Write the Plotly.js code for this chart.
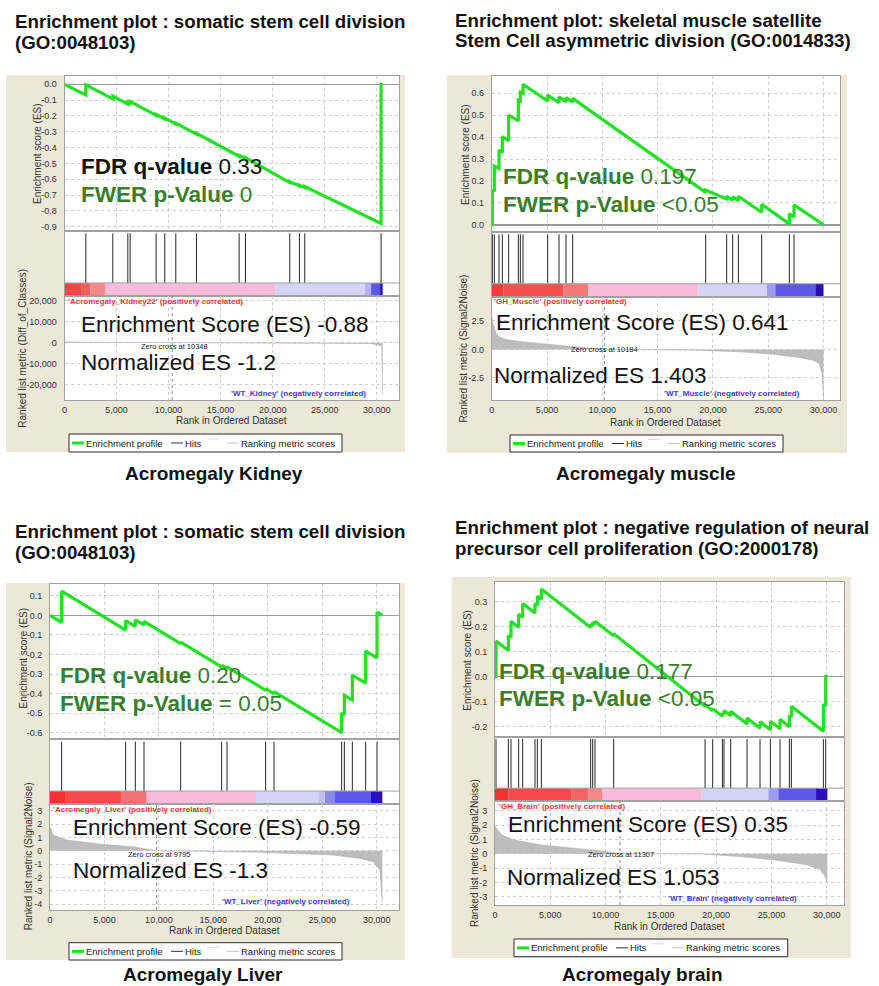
<!DOCTYPE html>
<html>
<head>
<meta charset="utf-8">
<script src="https://cdn.plot.ly/plotly-3.0.1.min.js"></script>
<style>
html,body{margin:0;padding:0;background:#fff;}
#chart{width:879px;height:986px;}
</style>
</head>
<body>
<div id="chart"></div>
<script>
// ---------------- shared tick labels ----------------
const xTickVals = [0, 5000, 10000, 15000, 20000, 25000, 30000];
const xTickText = ["0", "5,000", "10,000", "15,000", "20,000", "25,000", "30,000"];
const legendLabels = ["Enrichment profile", "Hits", "Ranking metric scores"];
const xAxisTitle = "Rank in Ordered Dataset";
const esAxisTitle = "Enrichment score (ES)";

// ---------------- Panel 1: Kidney ----------------
const kidneyTitle = ["Enrichment plot : somatic stem cell division", "(GO:0048103)"];
const kidneyCaption = "Acromegaly Kidney";
const kidneyStats = ["0.33", "0", "-0.88", "-1.2"];
const kidneyClassLabels = ["'Acromegaly_Kidney22' (positively correlated)", "'WT_Kidney' (negatively correlated)"];
const kidneyMetricName = "Ranked list metric (Diff_of_Classes)";
const kidneyZeroCross = 10348;
const kidneyHits = [2049, 4643, 6084, 6308, 8805, 9638, 10694, 12679, 16779, 17387, 21646, 22573, 23085, 30418];
const kidneyEsRank = [0, 2049, 2049, 4643, 4643, 6084, 6084, 6308, 6308, 8805, 8805, 9638, 9638, 10694, 10694, 12679, 12679, 16779, 16779, 17387, 17387, 21646, 21646, 22573, 22573, 23085, 23085, 30418, 30418, 30570];
const kidneyEsScore = [0, -0.067, -0.003, -0.092, -0.074, -0.125, -0.112, -0.119, -0.108, -0.196, -0.19, -0.219, -0.213, -0.251, -0.245, -0.315, -0.309, -0.455, -0.449, -0.47, -0.464, -0.621, -0.615, -0.643, -0.637, -0.652, -0.646, -0.88, 0, 0];
const kidneyMetricRank = [0, 2000, 10348, 29500, 30480, 30500, 30570];
const kidneyMetricValue = [400, 200, 0, -400, -1500, -25000, -25000];
const kidneyBarEdges = [0, 1665, 2466, 3906, 20237, 28882, 29458, 30323, 30570];
const kidneyBarColors = ["#f24646", "#f45e5e", "#f58a8a", "#f8bcda", "#d4d4f6", "#b4b4f0", "#5a5ae6", "#2a10b8"];
const kidneyEsTicks = [0, -0.1, -0.2, -0.3, -0.4, -0.5, -0.6, -0.7, -0.8, -0.9];
const kidneyEsTickText = ["0.0", "-0.1", "-0.2", "-0.3", "-0.4", "-0.5", "-0.6", "-0.7", "-0.8", "-0.9"];
const kidneyMetricTicks = [20000, 10000, 0, -10000, -20000];
const kidneyMetricTickText = ["20,000", "10,000", "0", "-10,000", "-20,000"];

// ---------------- Panel 2: Muscle ----------------
const muscleTitle = ["Enrichment plot: skeletal muscle satellite", "Stem Cell asymmetric division (GO:0014833)"];
const muscleCaption = "Acromegaly muscle";
const muscleStats = ["0.197", "<0.05", "0.641", "1.403"];
const muscleClassLabels = ["'GH_Muscle' (positively correlated)", "'WT_Muscle' (negatively correlated)"];
const muscleMetricName = "Ranked list metric (Signal2Noise)";
const muscleZeroCross = 10184;
const muscleHits = [57, 238, 660, 961, 1534, 2408, 2589, 2830, 5060, 6085, 6718, 7321, 19346, 21245, 21787, 22300, 24410, 26911, 27333];
const muscleEsRank = [0, 57, 57, 238, 238, 660, 660, 961, 961, 1534, 1534, 2408, 2408, 2589, 2589, 2830, 2830, 5060, 5060, 6085, 6085, 6718, 6718, 7321, 7321, 19346, 19346, 21245, 21245, 21787, 21787, 22300, 22300, 24410, 24410, 26911, 26911, 27333, 27333, 30000];
const muscleEsScore = [0, 0, 0.158, 0.152, 0.268, 0.257, 0.341, 0.33, 0.402, 0.384, 0.501, 0.474, 0.569, 0.565, 0.605, 0.6, 0.641, 0.565, 0.592, 0.557, 0.584, 0.562, 0.58, 0.56, 0.577, 0.148, 0.158, 0.118, 0.13, 0.112, 0.128, 0.11, 0.13, 0.057, 0.093, 0.004, 0.05, 0.036, 0.091, 0];
const muscleMetricRank = [0, 57, 400, 700, 1330, 2830, 4340, 7350, 9760, 10184, 18500, 22400, 25420, 27830, 29030, 29630, 29870, 29930, 30000];
const muscleMetricValue = [2.9, 2.5, 1.4, 1.1, 0.88, 0.67, 0.53, 0.29, 0.06, 0, -0.06, -0.2, -0.41, -0.7, -0.94, -1.23, -2.1, -4.15, -4.4];
const muscleBarEdges = [0, 1050, 6480, 8740, 18700, 24880, 25640, 29260, 30000];
const muscleBarColors = ["#f43a3a", "#f55050", "#f47a7a", "#f8bcda", "#d4d4f6", "#9c9cf0", "#5a5ae6", "#2a10b8"];
const muscleEsTicks = [0, 0.1, 0.2, 0.3, 0.4, 0.5, 0.6];
const muscleEsTickText = ["0.0", "0.1", "0.2", "0.3", "0.4", "0.5", "0.6"];
const muscleMetricTicks = [2.5, 0, -2.5];
const muscleMetricTickText = ["2.5", "0.0", "-2.5"];

// ---------------- Panel 3: Liver ----------------
const liverTitle = ["Enrichment plot : somatic stem cell division", "(GO:0048103)"];
const liverCaption = "Acromegaly Liver";
const liverStats = ["0.20", "= 0.05", "-0.59", "-1.3"];
const liverClassLabels = ["'Acromegaly_Liver' (positively correlated)", "'WT_Liver' (negatively correlated)"];
const liverMetricName = "Ranked list metric (Signal2Noise)";
const liverZeroCross = 9795;
const liverHits = [1071, 6949, 7837, 8633, 12000, 15765, 16255, 19806, 20571, 26786, 27031, 27765, 28990, 30031];
const liverEsRank = [0, 1071, 1071, 6949, 6949, 7837, 7837, 8633, 8633, 12000, 12000, 15765, 15765, 16255, 16255, 19806, 19806, 20571, 20571, 26786, 26786, 27031, 27031, 27765, 27765, 28990, 28990, 30031, 30031, 30520];
const liverEsScore = [0, -0.036, 0.124, -0.075, -0.026, -0.056, -0.022, -0.049, -0.03, -0.144, -0.136, -0.263, -0.255, -0.271, -0.263, -0.383, -0.375, -0.401, -0.39, -0.6, -0.5, -0.508, -0.41, -0.433, -0.305, -0.346, -0.182, -0.217, 0.017, 0];
const liverMetricRank = [0, 300, 1530, 4590, 7650, 9795, 18800, 22960, 26000, 28470, 29700, 30300, 30520];
const liverMetricValue = [1.8, 1.17, 0.8, 0.5, 0.3, 0, -0.1, -0.2, -0.32, -0.57, -0.82, -1.44, -3.9];
const liverBarEdges = [0, 1377, 6581, 8877, 18918, 24643, 25255, 26112, 29479, 30520];
const liverBarColors = ["#f43030", "#f44a4a", "#f57272", "#f8bcda", "#d4d4f6", "#c0c0f2", "#8a8aee", "#5a5ae6", "#2a10c0"];
const liverEsTicks = [0.1, 0, -0.1, -0.2, -0.3, -0.4, -0.5, -0.6];
const liverEsTickText = ["0.1", "0.0", "-0.1", "-0.2", "-0.3", "-0.4", "-0.5", "-0.6"];
const liverMetricTicks = [3, 2, 1, 0, -1, -2, -3, -4];
const liverMetricTickText = ["3", "2", "1", "0", "-1", "-2", "-3", "-4"];

// ---------------- Panel 4: Brain ----------------
const brainTitle = ["Enrichment plot : negative regulation of neural", "precursor cell proliferation (GO:2000178)"];
const brainCaption = "Acromegaly brain";
const brainStats = ["0.177", "<0.05", "0.35", "1.053"];
const brainClassLabels = ["'GH_Brain' (positively correlated)", "'WT_Brain' (negatively correlated)"];
const brainMetricName = "Ranked list metric (Signal2Noise)";
const brainZeroCross = 11307;
const brainHits = [90, 1206, 1447, 2141, 2503, 3618, 3829, 4191, 8653, 8834, 9045, 10734, 18995, 19688, 20563, 20714, 21317, 22794, 23970, 24905, 25779, 26623, 26804, 29698, 29910];
const brainEsRank = [0, 90, 90, 1206, 1206, 1447, 1447, 2141, 2141, 2503, 2503, 3618, 3618, 3829, 3829, 4191, 4191, 8653, 8653, 8834, 8834, 9045, 9045, 10734, 10734, 18995, 18995, 19688, 19688, 20563, 20563, 20714, 20714, 21317, 21317, 22794, 22794, 23970, 23970, 24905, 24905, 25779, 25779, 26623, 26623, 26804, 26804, 29698, 29698, 29910, 29910, 30060];
const brainEsScore = [0, -0.003, 0.143, 0.105, 0.165, 0.157, 0.222, 0.198, 0.25, 0.238, 0.293, 0.255, 0.293, 0.286, 0.322, 0.31, 0.351, 0.197, 0.21, 0.204, 0.218, 0.211, 0.222, 0.164, 0.172, -0.118, -0.112, -0.136, -0.128, -0.158, -0.145, -0.15, -0.135, -0.156, -0.138, -0.189, -0.165, -0.206, -0.18, -0.212, -0.178, -0.208, -0.17, -0.2, -0.155, -0.161, -0.118, -0.218, -0.11, -0.117, 0.005, 0];
const brainMetricRank = [0, 600, 1660, 4070, 7085, 10100, 11307, 18690, 22160, 25175, 28190, 29400, 29850, 30060];
const brainMetricValue = [1.9, 1.32, 0.97, 0.63, 0.39, 0.16, 0, -0.02, -0.19, -0.42, -0.76, -1.1, -1.58, -2.0];
const brainBarEdges = [0, 1206, 6935, 8442, 9738, 18693, 24723, 25628, 29035, 30060];
const brainBarColors = ["#f43030", "#f44a4a", "#f46464", "#f58888", "#f8bcda", "#d4d4f6", "#9c9cf0", "#5a5ae6", "#2a10c0"];
const brainEsTicks = [0.3, 0.2, 0.1, 0, -0.1, -0.2];
const brainEsTickText = ["0.3", "0.2", "0.1", "0.0", "-0.1", "-0.2"];
const brainMetricTicks = [3, 2, 1, 0, -1, -2, -3];
const brainMetricTickText = ["3", "2", "1", "0", "-1", "-2", "-3"];

// ---------------- drawing ----------------
const W = 879, H = 986;
const FONT = "Liberation Sans, Arial, Helvetica, sans-serif";
const GREEN_TEXT = "#3b7d2e";
const ES_GREEN = "#22e022";
const BEIGE = "#ebe8d8";
const traces = [], shapes = [], annotations = [];
const layout = {
  width: W, height: H,
  margin: {l: 0, r: 0, t: 0, b: 0},
  paper_bgcolor: "#ffffff",
  plot_bgcolor: "rgba(0,0,0,0)",
  showlegend: false,
  font: {family: FONT, color: "#333"}
};
const X = v => v / W;
const Y = v => 1 - v / H;
const id = n => (n === 1 ? "" : String(n));
const esc = s => s.replace(/</g, "&lt;").replace(/>/g, "&gt;");

function ann(x, y, text, o) {
  annotations.push(Object.assign({
    xref: "paper", yref: "paper", x: X(x), y: Y(y), text: text,
    showarrow: false, xanchor: "left", yanchor: "middle", borderpad: 0,
    font: {family: FONT, size: 10, color: "#333"}
  }, o || {}));
}
function pline(x0, y0, x1, y1, color, width, dash) {
  shapes.push({type: "line", xref: "paper", yref: "paper", x0: X(x0), y0: Y(y0), x1: X(x1), y1: Y(y1),
    line: {color: color, width: width, dash: dash || "solid"}, layer: "above"});
}

function addPanel(k, d, g) {
  const a = 3 * k + 1, b = 3 * k + 2, c = 3 * k + 3;
  const xd = [X(g.left), X(g.right)];
  const yd = (top, bot) => [Y(bot), Y(top)];
  const tfont = {family: FONT, size: 9, color: "#333"};
  const grid = {showgrid: true, gridcolor: "#cdcdcd", griddash: "dot", gridwidth: 1};
  const box = {showline: true, mirror: true, linecolor: "#a0a0a0", linewidth: 1, fixedrange: true};

  // beige frame + white plot areas
  shapes.push({type: "rect", xref: "paper", yref: "paper", x0: X(g.bg[0]), y0: Y(g.bg[3]), x1: X(g.bg[2]), y1: Y(g.bg[1]),
    fillcolor: BEIGE, line: {width: 0}, layer: "below"});
  [a, b, c].forEach(n => shapes.push({type: "rect", xref: "x" + id(n) + " domain", yref: "y" + id(n) + " domain",
    x0: 0, x1: 1, y0: 0, y1: 1, fillcolor: "#ffffff", line: {width: 0}, layer: "below"}));

  // axes: enrichment score
  layout["xaxis" + id(a)] = Object.assign({domain: xd, range: [0, g.xmax], anchor: "y" + id(a), tickmode: "array",
    tickvals: xTickVals, showticklabels: false, ticks: "", zeroline: false}, grid, box);
  layout["yaxis" + id(a)] = Object.assign({domain: yd(g.esTop, g.esBot), range: g.esRange, anchor: "x" + id(a),
    tickmode: "array", tickvals: d.esTicks, ticktext: d.esTickText, tickfont: tfont, ticks: "outside", ticklen: 5,
    tickcolor: "rgba(0,0,0,0)", zeroline: true, zerolinecolor: "#9a9a9a", zerolinewidth: 1.5}, grid, box);
  // axes: hits + colour bar
  layout["xaxis" + id(b)] = Object.assign({domain: xd, range: [0, g.xmax], anchor: "y" + id(b), showgrid: false,
    showticklabels: false, ticks: "", zeroline: false}, box);
  layout["yaxis" + id(b)] = Object.assign({domain: yd(g.esBot, g.metTop), range: [0, 1], anchor: "x" + id(b),
    showgrid: false, showticklabels: false, ticks: "", zeroline: false}, box);
  // axes: ranked metric
  layout["xaxis" + id(c)] = Object.assign({domain: xd, range: [0, g.xmax], anchor: "y" + id(c), tickmode: "array",
    tickvals: xTickVals, ticktext: xTickText, tickfont: tfont, ticks: "outside", ticklen: 1,
    tickcolor: "rgba(0,0,0,0)", zeroline: false}, grid, box);
  layout["yaxis" + id(c)] = Object.assign({domain: yd(g.metTop, g.metBot), range: g.metRange, anchor: "x" + id(c),
    tickmode: "array", tickvals: d.metTicks, ticktext: d.metTickText, tickfont: tfont, ticks: "outside", ticklen: 5,
    tickcolor: "rgba(0,0,0,0)", zeroline: false}, grid, box);

  // colour bar of the ranked list
  for (let i = 0; i < d.barColors.length; i++) {
    shapes.push({type: "rect", xref: "x" + id(b), yref: "y" + id(b), x0: d.barEdges[i], x1: d.barEdges[i + 1],
      y0: 0, y1: 0.2, fillcolor: d.barColors[i], line: {width: 0}, layer: "below"});
  }
  shapes.push({type: "line", xref: "x" + id(b) + " domain", yref: "y" + id(b), x0: 0, x1: 1, y0: 0.2, y1: 0.2,
    line: {color: "#a0a0a0", width: 1}, layer: "above"});
  // zero cross
  shapes.push({type: "line", xref: "x" + id(c), yref: "y" + id(c) + " domain", x0: d.zeroCross, x1: d.zeroCross,
    y0: 0, y1: 1, line: {color: "#8a8a8a", width: 1, dash: "3px,3px"}, layer: "above"});

  // traces
  traces.push({type: "scatter", mode: "lines", x: d.metRank, y: d.metValue, xaxis: "x" + id(c), yaxis: "y" + id(c),
    fill: "tozeroy", fillcolor: "#bdbdbd", line: {color: "#b0b0b0", width: 0.6}, hoverinfo: "skip"});
  traces.push({type: "scatter", mode: "lines", x: d.hits.flatMap(h => [h, h, null]),
    y: d.hits.flatMap(() => [0.2, 0.965, null]), xaxis: "x" + id(b), yaxis: "y" + id(b),
    line: {color: "#262626", width: 1}, hoverinfo: "skip"});
  traces.push({type: "scatter", mode: "lines", x: d.esRank, y: d.esScore, xaxis: "x" + id(a), yaxis: "y" + id(a),
    line: {color: ES_GREEN, width: 3.2}, hoverinfo: "skip"});

  // texts
  const big = 22.5;
  ann(g.title[0], g.title[1], "<b>" + d.title[0] + "</b>", {font: {family: FONT, size: 18.7, color: "#111"}});
  ann(g.title[0], g.title[2], "<b>" + d.title[1] + "</b>", {font: {family: FONT, size: 18.7, color: "#111"}});
  ann(g.caption[0], g.caption[1], "<b>" + d.caption + "</b>", {xanchor: "center", font: {family: FONT, size: 19, color: "#111"}});
  ann(g.fdr[0], g.fdr[1], "<b>FDR q-value</b> " + esc(d.stats[0]), {font: {family: FONT, size: big, color: d.fdrColor}});
  ann(g.fwer[0], g.fwer[1], "<b>FWER p-Value</b> " + esc(d.stats[1]), {font: {family: FONT, size: big, color: GREEN_TEXT}});
  ann(g.es[0], g.es[1], "Enrichment Score (ES) " + esc(d.stats[2]), {font: {family: FONT, size: big, color: "#111"}});
  ann(g.nes[0], g.nes[1], "Normalized ES " + esc(d.stats[3]), {font: {family: FONT, size: big, color: "#111"}});
  ann(g.zc[0], g.zc[1], "Zero cross at " + d.zeroCross, {font: {family: FONT, size: 7.5, color: "#222"}});
  ann(g.pos[0], g.pos[1], "<b>" + d.classLabels[0] + "</b>", {font: {family: FONT, size: 8, color: "#e03a3a"}});
  ann(g.neg[0], g.neg[1], "<b>" + d.classLabels[1] + "</b>", {xanchor: "right", font: {family: FONT, size: 8, color: "#3a3ad0"}});
  ann(g.esTitle[0], g.esTitle[1], esAxisTitle, {xanchor: "center", textangle: -90, font: {family: FONT, size: 10, color: "#333"}});
  ann(g.metTitle[0], g.metTitle[1], d.metricName, {xanchor: "center", textangle: -90, font: {family: FONT, size: 10, color: "#333"}});
  ann((g.left + g.right) / 2, g.xTitleY, xAxisTitle, {xanchor: "center", font: {family: FONT, size: 10, color: "#333"}});

  // legend
  const L = g.legend[0], T = g.legend[1], R = g.legend[2], B = g.legend[3], cy = (T + B) / 2;
  shapes.push({type: "rect", xref: "paper", yref: "paper", x0: X(L), x1: X(R), y0: Y(B), y1: Y(T),
    fillcolor: "#ffffff", line: {color: "#2a2a2a", width: 1}, layer: "below"});
  pline(L + 3, cy, L + 15, cy, ES_GREEN, 3);
  ann(L + 16, cy, legendLabels[0], {font: {family: FONT, size: 9.5, color: "#222"}});
  pline(L + 102, cy, L + 114, cy, "#333", 1);
  ann(L + 115, cy, legendLabels[1], {font: {family: FONT, size: 9.5, color: "#222"}});
  pline(L + 138, cy - 4, L + 150, cy - 4, "#dddddd", 1);
  pline(L + 158, cy, L + 170, cy, "#c4c4c4", 1);
  ann(L + 171, cy, legendLabels[2], {font: {family: FONT, size: 9.5, color: "#222"}});
}

addPanel(0, {
  title: kidneyTitle, caption: kidneyCaption, stats: kidneyStats, classLabels: kidneyClassLabels,
  metricName: kidneyMetricName, zeroCross: kidneyZeroCross, hits: kidneyHits, esRank: kidneyEsRank, esScore: kidneyEsScore,
  metRank: kidneyMetricRank, metValue: kidneyMetricValue, barEdges: kidneyBarEdges, barColors: kidneyBarColors,
  esTicks: kidneyEsTicks, esTickText: kidneyEsTickText, metTicks: kidneyMetricTicks, metTickText: kidneyMetricTickText,
  fdrColor: "#111"
}, {
  left: 64.5, right: 399, xmax: 32140, esTop: 76, esBot: 231, metTop: 296, metBot: 400,
  esRange: [-0.927, 0.0527], metRange: [-27290, 22240], bg: [6, 75, 405, 452],
  fdr: [80, 166.7], fwer: [80, 194], es: [80, 325], nes: [80, 362.5], zc: [140, 346],
  pos: [67, 301], neg: [367, 393], esTitle: [37, 154], metTitle: [21.7, 348], xTitleY: 421,
  legend: [69, 434, 342, 452], caption: [214, 473], title: [14, 22, 42]
});

addPanel(1, {
  title: muscleTitle, caption: muscleCaption, stats: muscleStats, classLabels: muscleClassLabels,
  metricName: muscleMetricName, zeroCross: muscleZeroCross, hits: muscleHits, esRank: muscleEsRank, esScore: muscleEsScore,
  metRank: muscleMetricRank, metValue: muscleMetricValue, barEdges: muscleBarEdges, barColors: muscleBarColors,
  esTicks: muscleEsTicks, esTickText: muscleEsTickText, metTicks: muscleMetricTicks, metTickText: muscleMetricTickText,
  fdrColor: GREEN_TEXT
}, {
  left: 491.7, right: 840, xmax: 31490, esTop: 76, esBot: 232, metTop: 296.7, metBot: 400,
  esRange: [-0.033, 0.679], metRange: [-4.43, 4.63], bg: [447, 75, 847, 453],
  fdr: [501.7, 176.7], fwer: [501.7, 204.2], es: [495, 322], nes: [493.3, 375], zc: [570, 349.3],
  pos: [493.3, 301.7], neg: [801, 393.7], esTitle: [465, 155], metTitle: [463, 348.5], xTitleY: 422,
  legend: [510, 435, 783, 452], caption: [646, 473], title: [454, 21, 41]
});

addPanel(2, {
  title: liverTitle, caption: liverCaption, stats: liverStats, classLabels: liverClassLabels,
  metricName: liverMetricName, zeroCross: liverZeroCross, hits: liverHits, esRank: liverEsRank, esScore: liverEsScore,
  metRank: liverMetricRank, metValue: liverMetricValue, barEdges: liverBarEdges, barColors: liverBarColors,
  esTicks: liverEsTicks, esTickText: liverEsTickText, metTicks: liverMetricTicks, metTickText: liverMetricTickText,
  fdrColor: GREEN_TEXT
}, {
  left: 50, right: 399, xmax: 32050, esTop: 584, esBot: 739.3, metTop: 804, metBot: 910,
  esRange: [-0.634, 0.161], metRange: [-4.43, 3.5], bg: [6, 583, 405, 960],
  fdr: [59.3, 675.8], fwer: [59.3, 703.3], es: [71.7, 827.2], nes: [71.7, 870.5], zc: [126.7, 854],
  pos: [51.7, 809.3], neg: [351, 901], esTitle: [22.5, 658], metTitle: [28.3, 856], xTitleY: 930,
  legend: [69, 942.7, 342, 960], caption: [203, 974], title: [14, 531, 552]
});

addPanel(3, {
  title: brainTitle, caption: brainCaption, stats: brainStats, classLabels: brainClassLabels,
  metricName: brainMetricName, zeroCross: brainZeroCross, hits: brainHits, esRank: brainEsRank, esScore: brainEsScore,
  metRank: brainMetricRank, metValue: brainMetricValue, barEdges: brainBarEdges, barColors: brainBarColors,
  esTicks: brainEsTicks, esTickText: brainEsTickText, metTicks: brainMetricTicks, metTickText: brainMetricTickText,
  fdrColor: GREEN_TEXT
}, {
  left: 495, right: 844.3, xmax: 31592, esTop: 581.7, esBot: 736.7, metTop: 801, metBot: 905,
  esRange: [-0.24, 0.38], metRange: [-3.56, 3.67], bg: [451.7, 577, 850.7, 958],
  fdr: [498.3, 671.7], fwer: [498.3, 698.3], es: [506.7, 824.2], nes: [505.7, 877.2], zc: [586.7, 854],
  pos: [497.7, 806.7], neg: [798.3, 898.3], esTitle: [466.7, 660], metTitle: [474, 853], xTitleY: 926.7,
  legend: [514, 939, 787.7, 956.7], caption: [642.7, 974], title: [454, 527, 548]
});

layout.shapes = shapes;
layout.annotations = annotations;
Plotly.newPlot("chart", traces, layout, {staticPlot: true, displayModeBar: false});
</script>
</body>
</html>
